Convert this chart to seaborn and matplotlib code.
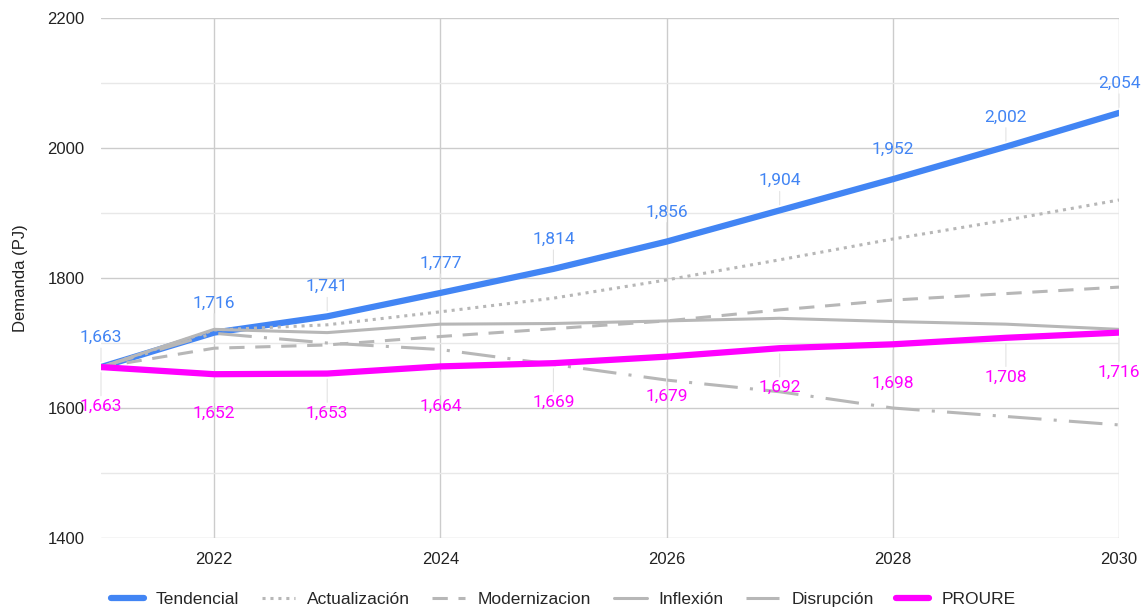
import numpy as np
import pandas as pd
import seaborn as sns
import matplotlib.pyplot as plt
from matplotlib.ticker import MultipleLocator

# Data
years = [2021, 2022, 2023, 2024, 2025, 2026, 2027, 2028, 2029, 2030]
tendencial = [1663, 1716, 1741, 1777, 1814, 1856, 1904, 1952, 2002, 2054]
actualizacion = [1663, 1720, 1728, 1748, 1769, 1797, 1828, 1860, 1889, 1920]
modernizacion = [1663, 1692, 1697, 1710, 1722, 1734, 1751, 1766, 1776, 1786]
inflexion = [1663, 1721, 1716, 1729, 1730, 1734, 1738, 1733, 1729, 1721]
disrupcion = [1663, 1715, 1700, 1690, 1667, 1643, 1625, 1600, 1587, 1574]
proure = [1663, 1652, 1653, 1664, 1669, 1679, 1692, 1698, 1708, 1716]

sns.set_theme(style="white")
plt.rcParams['font.family'] = ['Liberation Sans', 'DejaVu Sans']

blue = "#4285f4"
magenta = "#ff00ff"
gray = "#b7b7b7"

fig = plt.figure(figsize=(11.45, 6.1), dpi=100)
ax = fig.add_axes([0.0882, 0.118, 0.8891, 0.8525])

series = [
    ("Tendencial", tendencial, blue, 4.5, "-"),
    ("Actualización", actualizacion, gray, 2.2, (0, (1, 1.6))),
    ("Modernizacion", modernizacion, gray, 2.2, (0, (5, 3.5))),
    ("Inflexión", inflexion, gray, 2.2, "-"),
    ("Disrupción", disrupcion, gray, 2.2, (0, (11, 4, 1, 4))),
    ("PROURE", proure, magenta, 4.5, "-"),
]
for name, vals, col, lw, ls in series:
    df = pd.DataFrame({"year": years, "value": vals})
    sns.lineplot(data=df, x="year", y="value", ax=ax, color=col, lw=lw,
                 linestyle=ls, label=name, zorder=3)

# data labels with faint leader lines
for x, v in zip(years, tendencial):
    ax.annotate(f"{v:,}", xy=(x, v), xytext=(0, 16), textcoords="offset points",
                ha="center", va="bottom", color=blue, fontsize=12.5, family="Roboto",
                annotation_clip=False,
                arrowprops=dict(arrowstyle="-", color="#e3e3e3", lw=0.8, shrinkA=0, shrinkB=4))
for x, v in zip(years, proure):
    ax.annotate(f"{v:,}", xy=(x, v), xytext=(0, -23), textcoords="offset points",
                ha="center", va="top", color=magenta, fontsize=12.5, family="Roboto",
                annotation_clip=False,
                arrowprops=dict(arrowstyle="-", color="#e3e3e3", lw=0.8, shrinkA=0, shrinkB=4))

ax.set_xlim(2021, 2030)
ax.set_ylim(1400, 2200)
ax.xaxis.set_major_locator(MultipleLocator(2))
ax.yaxis.set_major_locator(MultipleLocator(200))
ax.yaxis.set_minor_locator(MultipleLocator(100))
ax.grid(True, which="major", color="#cccccc", lw=1.0, zorder=0)
ax.grid(True, which="minor", axis="y", color="#e8e8e8", lw=1.0, zorder=0)
for s in ax.spines.values():
    s.set_visible(False)
ax.tick_params(axis="both", which="both", length=0, labelsize=12, colors="#222222")
ax.tick_params(axis="x", pad=10)
ax.tick_params(axis="y", pad=12)
ax.set_xlabel("")
ax.set_ylabel("Demanda (PJ)", fontsize=12, color="#222222", labelpad=14)

ax.legend(loc="center", bbox_to_anchor=(0.454, -0.119),
          bbox_transform=ax.transAxes, ncol=6, frameon=False, fontsize=12.5,
          handlelength=1.9, columnspacing=1.3, handletextpad=0.7)

fig.savefig("out.png", dpi=100)
